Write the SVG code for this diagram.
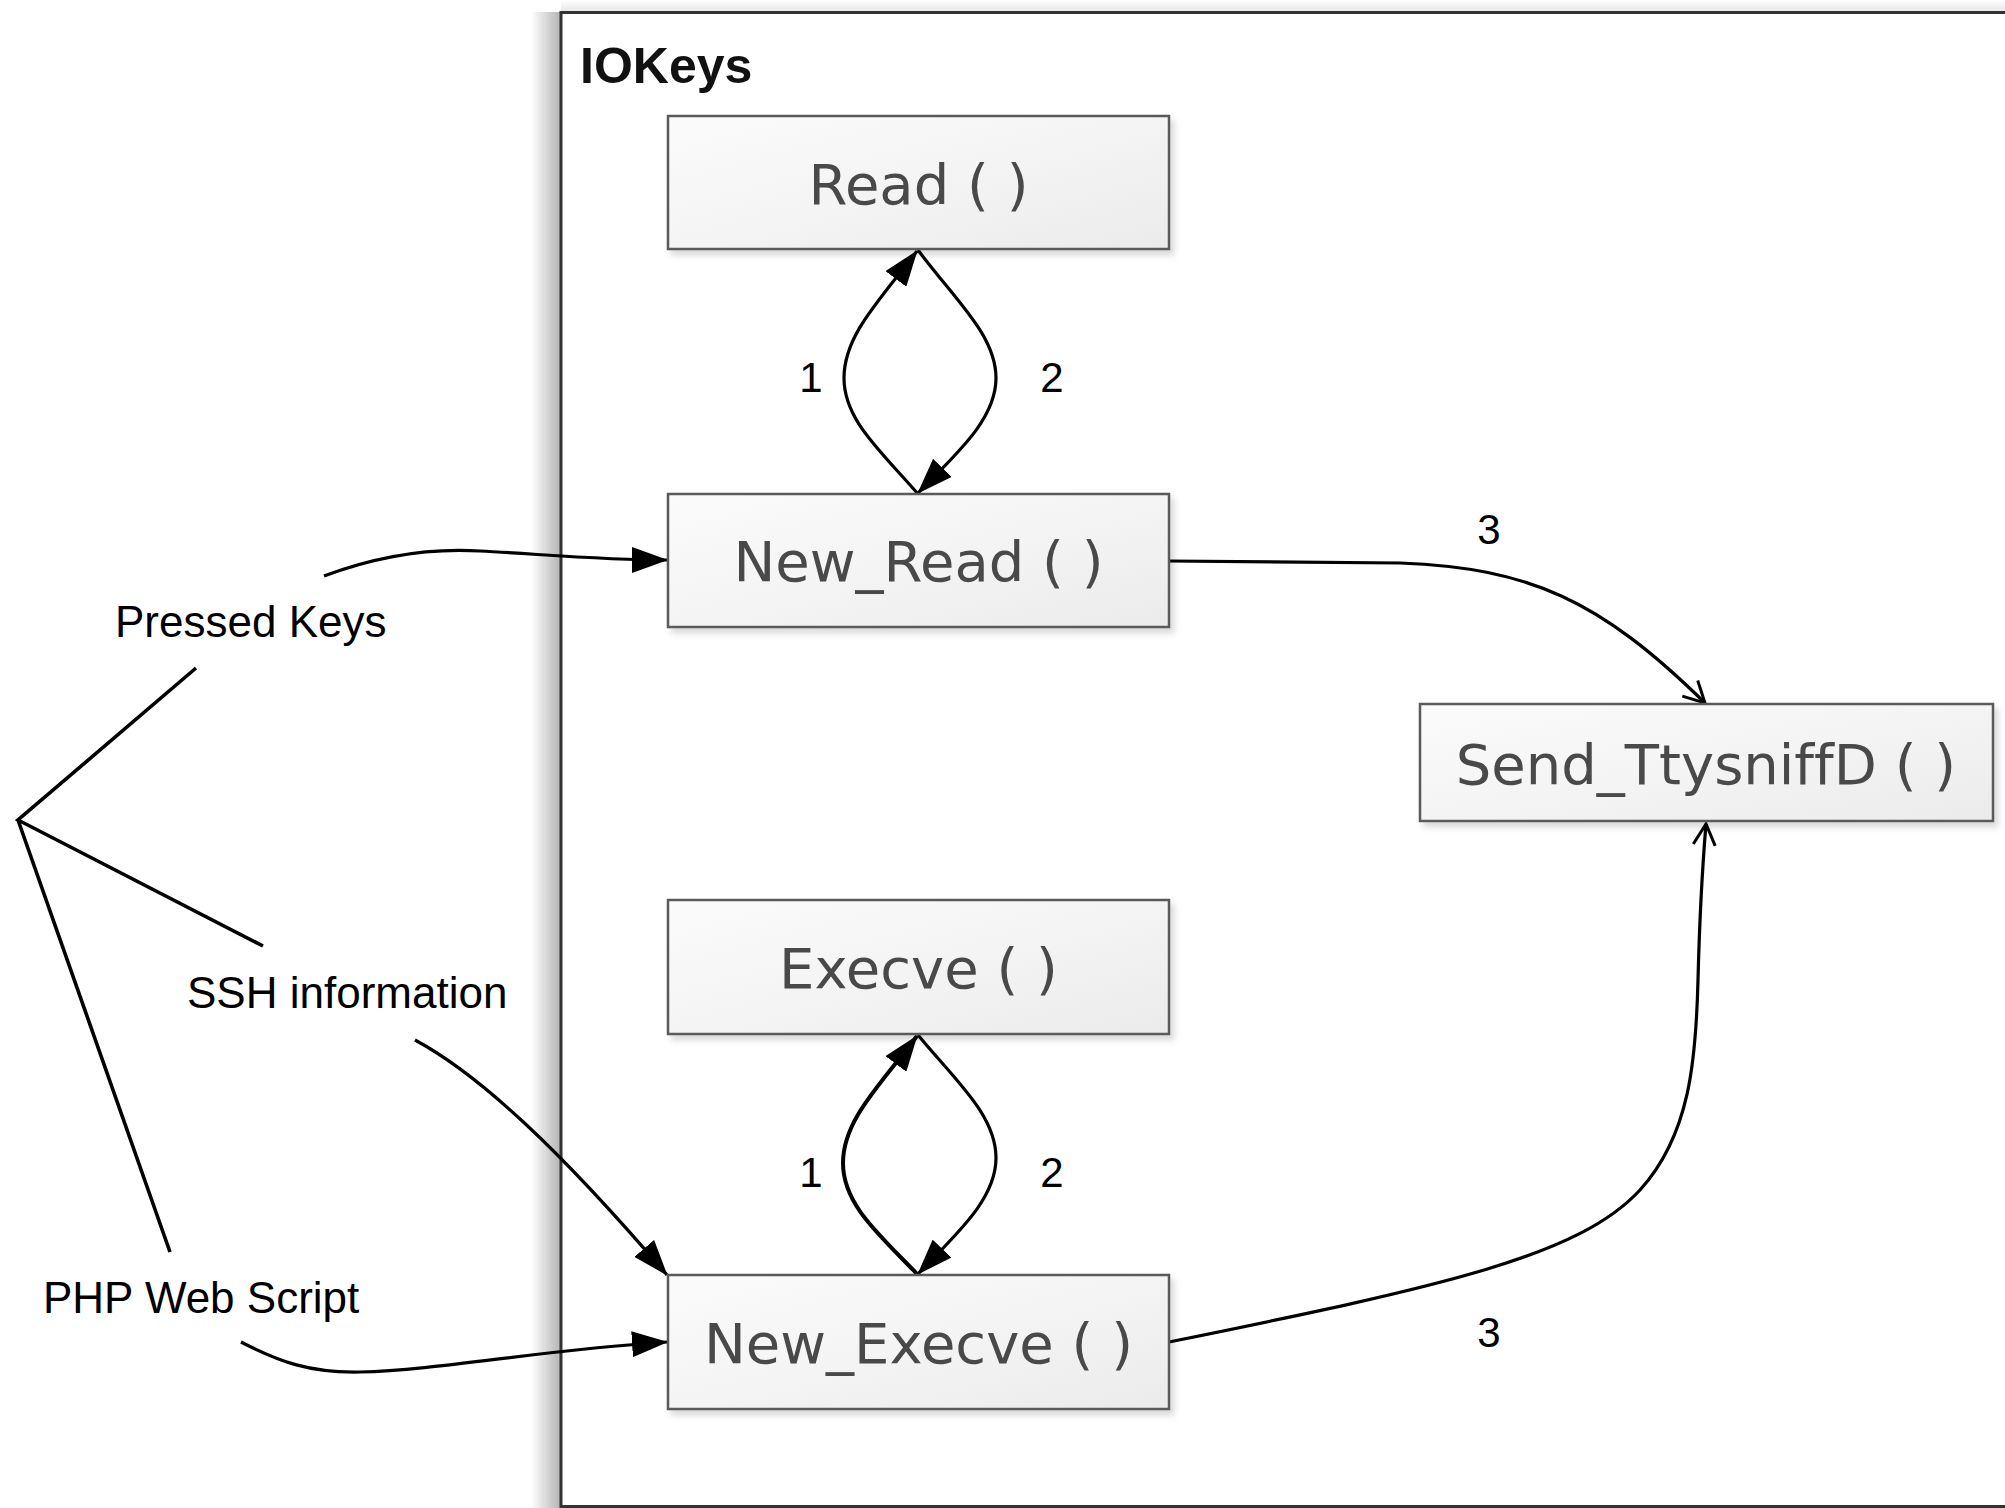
<svg xmlns="http://www.w3.org/2000/svg" width="2005" height="1508" viewBox="0 0 2005 1508">
<style>
.box{fill:url(#boxg);stroke:#5a5a5a;stroke-width:2.5}
.nl{font-family:"DejaVu Sans",Verdana,sans-serif;font-size:56px;fill:#4a4a4a;text-anchor:middle;font-variant-ligatures:none}
.lb{font-family:"Liberation Sans",Arial,sans-serif;font-size:44px;fill:#000}
.dg{font-family:"Liberation Sans",Arial,sans-serif;font-size:42px;fill:#000;text-anchor:middle}
.cn{fill:none;stroke:#000;stroke-width:3.2}
</style>
<defs>
<linearGradient id="boxg" x1="0" y1="0" x2="1" y2="1">
<stop offset="0" stop-color="#fbfbfb"/>
<stop offset="0.5" stop-color="#f4f4f4"/>
<stop offset="1" stop-color="#ebebeb"/>
</linearGradient>
<linearGradient id="lsh" x1="0" y1="0" x2="1" y2="0">
<stop offset="0" stop-color="#000" stop-opacity="0"/>
<stop offset="1" stop-color="#000" stop-opacity="0.3"/>
</linearGradient>
<linearGradient id="tsh" x1="0" y1="0" x2="0" y2="1">
<stop offset="0" stop-color="#000" stop-opacity="0"/>
<stop offset="1" stop-color="#000" stop-opacity="0.1"/>
</linearGradient>
<filter id="ds" x="-5%" y="-10%" width="115%" height="130%">
<feDropShadow dx="4" dy="5" stdDeviation="3" flood-color="#000" flood-opacity="0.15"/>
</filter>
<marker id="fa" markerUnits="userSpaceOnUse" markerWidth="36" markerHeight="26" refX="35" refY="13" orient="auto">
<path d="M0,0 L36,13 L0,26 Z" fill="#000"/>
</marker>
<marker id="oa" markerUnits="userSpaceOnUse" markerWidth="30" markerHeight="30" refX="24" refY="13" orient="auto">
<path d="M3,2 L24,13 L3,24" fill="none" stroke="#000" stroke-width="3"/>
</marker>
</defs>
<rect width="2005" height="1508" fill="#fff"/>
<g id="IOKeys">
<rect x="531" y="12" width="30" height="1496" fill="url(#lsh)"/>
<rect x="561" y="0" width="1444" height="12" fill="url(#tsh)"/>
<rect x="561" y="12.5" width="1500" height="1494" fill="#fff" stroke="#333" stroke-width="3"/>
<text x="580" y="83" font-family="Liberation Sans, Arial, sans-serif" font-size="50" font-weight="bold" fill="#111">IOKeys</text>
</g>
<g id="connectors">
<path class="cn" d="M918,494 C880,450 844,420 844,378 C844,335 880,300 917,251" marker-end="url(#fa)"/>
<path class="cn" d="M918,250 C955,300 996,335 996,378 C996,420 955,455 918,493" marker-end="url(#fa)"/>
<path class="cn" style="stroke-width:4" d="M918,1275 C880,1235 843,1205 843,1163 C843,1120 880,1085 917,1036" marker-end="url(#fa)"/>
<path class="cn" d="M918,1035 C955,1080 996,1115 996,1158 C996,1200 955,1235 918,1274" marker-end="url(#fa)"/>
<path class="cn" d="M324,576 C380,555 430,548 480,551 C540,554 600,560 667,560" marker-end="url(#fa)"/>
<path class="cn" d="M415,1040 C480,1075 560,1150 667,1275" marker-end="url(#fa)"/>
<path class="cn" d="M241,1342 C280,1362 310,1373 360,1372 C440,1370 540,1350 667,1342" marker-end="url(#fa)"/>
<path class="cn" style="stroke-width:3.6" d="M196,668 L18,820 L263,946 M18,820 L170,1252"/>
<path class="cn" d="M1169,561 L1400,563 C1530,568 1600,600 1705,703" marker-end="url(#oa)"/>
<path class="cn" d="M1169,1342 C1450,1285 1580,1255 1640,1190 C1690,1135 1696,1060 1698,980 C1700,900 1703,860 1706,824" marker-end="url(#oa)"/>
<text class="dg" x="811" y="392">1</text>
<text class="dg" x="1052" y="392">2</text>
<text class="dg" x="811" y="1187">1</text>
<text class="dg" x="1052" y="1187">2</text>
<text class="dg" x="1489" y="544">3</text>
<text class="dg" x="1489" y="1347">3</text>
</g>
<g id="labels">
<text class="lb" x="115" y="637">Pressed Keys</text>
<text class="lb" x="187" y="1008">SSH information</text>
<text class="lb" x="43" y="1313">PHP Web Script</text>
</g>
<g id="Read" filter="url(#ds)">
<rect class="box" x="668" y="116" width="501" height="133"/>
<text class="nl" x="918.5" y="204">Read ( )</text>
</g>
<g id="New_Read" filter="url(#ds)">
<rect class="box" x="668" y="494" width="501" height="133"/>
<text class="nl" x="918.5" y="581">New_Read ( )</text>
</g>
<g id="Execve" filter="url(#ds)">
<rect class="box" x="668" y="900" width="501" height="134"/>
<text class="nl" x="918.5" y="988">Execve ( )</text>
</g>
<g id="New_Execve" filter="url(#ds)">
<rect class="box" x="668" y="1275" width="501" height="134"/>
<text class="nl" x="918.5" y="1363">New_Execve ( )</text>
</g>
<g id="Send_TtysniffD" filter="url(#ds)">
<rect class="box" x="1420" y="704" width="573" height="117"/>
<text class="nl" x="1706" y="784">Send_TtysniffD ( )</text>
</g>
</svg>
